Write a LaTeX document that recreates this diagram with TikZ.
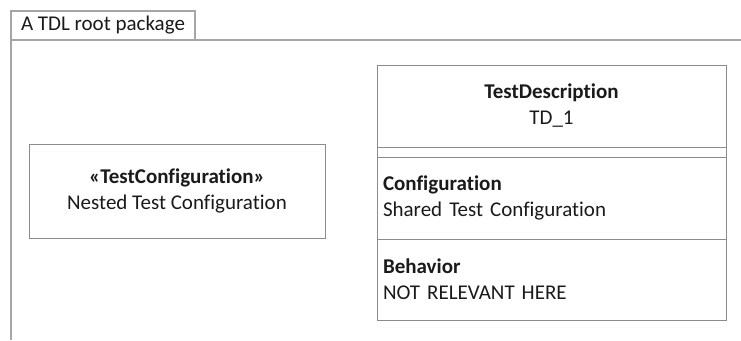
\documentclass[tikz,border=0pt]{standalone}
\usepackage{fontspec}
\setmainfont{Carlito}[Ligatures=NoCommon]
\usepackage{xcolor}
\usepackage{tikz}
\usetikzlibrary{positioning}

\definecolor{framegray}{HTML}{A6A6A6}
\definecolor{boxgray}{HTML}{8C8C8C}
\definecolor{inkgray}{HTML}{1A1A1A}

\begin{document}
\begin{tikzpicture}[
  x=1pt, y=-1pt,
  every node/.style={font=\fontsize{21}{26}\selectfont, text=inkgray,
    inner sep=0pt, outer sep=0pt},
  frame/.style={draw=framegray, line width=1.2pt},
  box/.style={rectangle, draw=boxgray, line width=1pt, align=center},
  part/.style={box, minimum width=349pt, text width=337pt, align=left, inner xsep=6pt}
]
  \useasboundingbox (0,0) rectangle (741,340);

  % Package frame
  \node[box, draw=framegray, line width=1.2pt, minimum width=184pt, minimum height=29pt,
    anchor=south west] (tab) at (11,40) {A TDL root package};
  \coordinate (pkgright) at (741,40);
  \coordinate (pkgbottom) at (11,340);
  \draw[frame] (pkgright) -- (tab.south west) -- (pkgbottom);

  % Nested configuration
  \node[box, minimum width=296pt, minimum height=94pt] (nested) at (177,191)
    {\textbf{«TestConfiguration»}\\Nested Test Configuration};

  % Test description
  \node[box, minimum width=349pt, minimum height=82pt, anchor=north west] (head) at (377,65)
    {\textbf{TestDescription}\\TD\_1};
  \node[box, minimum width=349pt, minimum height=10pt, below=0pt of head] (empty) {};
  \node[part, minimum height=82pt, below=0pt of empty] (config)
    {\textbf{Configuration}\\Shared Test Configuration};
  \node[part, minimum height=81pt, below=0pt of config] (behavior)
    {\textbf{Behavior}\\NOT RELEVANT HERE};
\end{tikzpicture}
\end{document}
